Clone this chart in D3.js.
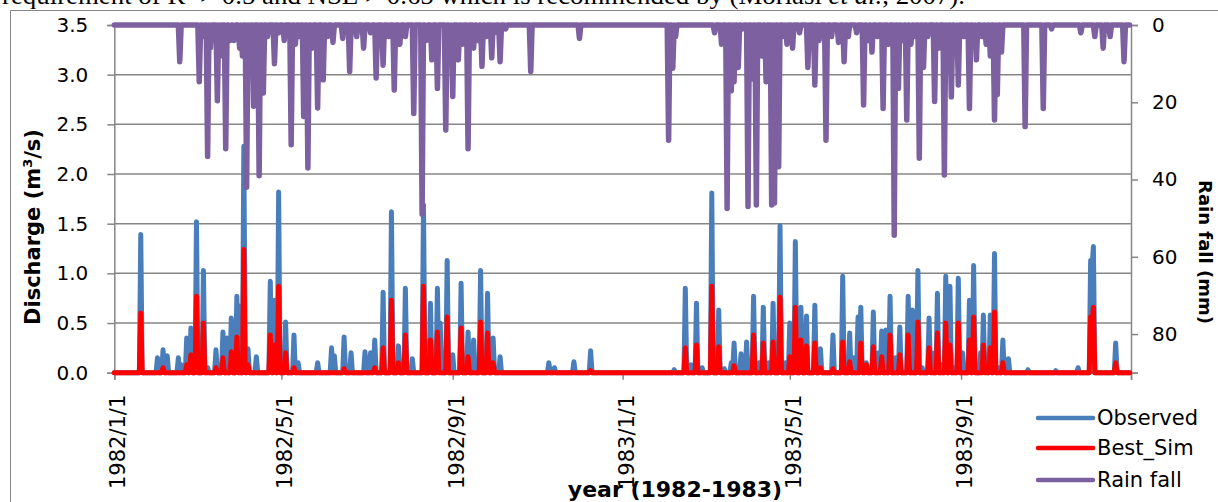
<!DOCTYPE html>
<html>
<head>
<meta charset="utf-8">
<script src="https://cdn.jsdelivr.net/npm/d3@7"></script>
<style>
  body { margin: 0; background: #fff; }
  svg { display: block; }
</style>
</head>
<body>
<svg id="chart"></svg>
<script>
// Daily discharge (observed vs simulated) with rainfall on a reversed secondary axis.
// Data are sparse: [day offset from 1982/1/1, value]; every other day is 0.

const width = 1218;
const height = 502;

const startDate = new Date(1982, 0, 1);
const nDays = 730;

// observed discharge (m3/s)
const observed = [
  [19,1.39],[31,0.15],[35,0.23],[38,0.17],[46,0.15],[48,0.08],[52,0.35],[55,0.45],[59,1.52],[64,1.03],
  [67,0.05],[73,0.23],[78,0.41],[81,0.35],[84,0.55],[88,0.77],[90,0.67],[93,2.28],[96,0.24],[102,0.16],
  [112,0.92],[115,0.73],[118,1.82],[123,0.51],[129,0.38],[132,0.10],[146,0.10],[156,0.25],[158,0.17],[165,0.36],
  [170,0.20],[180,0.21],[184,0.20],[187,0.33],[193,0.81],[199,1.62],[204,0.27],[209,0.85],[214,0.14],[222,1.69],
  [227,0.70],[232,0.85],[234,0.50],[239,1.13],[243,0.18],[249,0.90],[254,0.41],[258,0.33],[263,1.03],[268,0.80],
  [272,0.35],[277,0.16],[312,0.10],[316,0.05],[330,0.11],[342,0.22],[402,0.03],[410,0.85],[414,0.08],[418,0.70],
  [422,0.05],[429,1.81],[434,0.63],[438,0.04],[443,0.10],[445,0.30],[450,0.19],[454,0.31],[459,0.77],[463,0.10],
  [466,0.66],[470,0.10],[473,0.70],[478,1.48],[482,0.10],[485,0.50],[489,1.32],[493,0.66],[497,0.57],[503,0.68],
  [507,0.24],[516,0.38],[523,0.97],[528,0.40],[531,0.15],[534,0.56],[536,0.66],[540,0.10],[545,0.61],[549,0.20],
  [551,0.42],[554,0.43],[557,0.77],[561,0.15],[564,0.46],[570,0.77],[573,0.63],[577,1.03],[580,0.05],[585,0.55],
  [587,0.20],[591,0.80],[594,0.08],[597,0.97],[600,0.87],[603,0.05],[606,0.95],[609,0.20],[614,0.73],[617,1.08],
  [622,0.20],[624,0.58],[626,0.05],[629,0.58],[632,1.20],[635,0.05],[638,0.33],[642,0.14],[656,0.03],[676,0.02],
  [692,0.05],[701,1.13],[702,1.05],[703,1.27],[719,0.30]
];

// best simulation (m3/s)
const bestSim = [
  [19,0.60],[35,0.05],[52,0.08],[55,0.18],[59,0.77],[64,0.50],[73,0.05],[78,0.15],[84,0.21],[88,0.36],
  [93,1.24],[96,0.08],[112,0.38],[115,0.28],[118,0.87],[123,0.20],[129,0.05],[165,0.04],[187,0.05],[193,0.25],
  [199,0.73],[204,0.10],[209,0.38],[222,0.87],[227,0.33],[232,0.41],[239,0.56],[249,0.45],[254,0.16],[263,0.51],
  [268,0.40],[272,0.10],[342,0.02],[410,0.25],[418,0.28],[429,0.87],[434,0.26],[445,0.07],[459,0.38],[466,0.30],
  [473,0.31],[478,0.76],[485,0.16],[489,0.66],[493,0.33],[497,0.27],[503,0.30],[507,0.05],[516,0.04],[523,0.31],
  [528,0.11],[536,0.30],[540,0.08],[545,0.26],[551,0.16],[557,0.38],[564,0.18],[570,0.38],[577,0.51],[585,0.25],
  [591,0.40],[597,0.50],[600,0.28],[606,0.50],[614,0.33],[617,0.56],[624,0.28],[629,0.25],[632,0.61],[638,0.10],
  [701,0.56],[702,0.50],[703,0.66],[719,0.10]
];

// rainfall (mm)
const rainfall = [
  [47,9.5],[61,14.7],[64,3],[67,34],[69,6],[74,19.6],[76,8],[80,32],[83,4],[86,4],
  [90,6],[92,8],[95,42],[97,10],[100,21],[104,39],[107,17.6],[110,3],[115,10],[118,2],
  [122,4],[127,31],[130,5],[133,3],[136,23.7],[139,37],[142,6],[146,21.5],[150,14.2],[153,3],
  [157,4.5],[164,3.5],[169,12],[174,3],[179,6],[184,2],[188,13.7],[193,10.4],[197,3],[201,16.8],
  [205,5],[209,3],[215,22.9],[221,49],[224,4],[228,9],[232,16.4],[238,27.2],[241,5],[243,18.5],
  [247,9],[250,5],[254,32],[258,6],[261,4],[264,10.7],[267,3],[271,8.5],[273,2],[277,9.5],
  [281,1],[299,12],[334,3.5],[398,29.8],[401,11.2],[403,3],[431,2],[436,5],[440,47.5],[443,17],
  [445,14.7],[448,11],[451,1],[455,47],[458,14],[461,46.6],[465,8],[468,14.7],[472,46.6],[474,46.1],
  [477,36.7],[481,3],[483,5],[487,6],[492,2],[498,11],[503,15.5],[506,4],[511,29.8],[515,3],
  [520,4.5],[524,9.5],[527,3],[533,2],[538,20.7],[541,4],[544,7],[548,3],[552,21.6],[556,5],
  [560,54.4],[563,16.4],[566,4],[569,24.6],[572,5],[575,3],[578,34.5],[581,11],[584,3],[589,19.8],
  [592,6],[596,38.8],[598,10],[601,18.6],[604,4],[606,15.5],[610,3],[614,21.6],[617,5],[619,9],
  [623,3],[626,5],[629,8],[632,24.6],[634,18],[637,7],[654,26.3],[667,21.6],[673,1],[694,2],
  [704,3],[710,6],[715,3],[725,9.5]
];

const dischargeTicks = [0, 0.5, 1.0, 1.5, 2.0, 2.5, 3.0, 3.5];
const rainTicks = [0, 20, 40, 60, 80];
const dateTicks = [
  new Date(1982, 0, 1), new Date(1982, 4, 1), new Date(1982, 8, 1),
  new Date(1983, 0, 1), new Date(1983, 4, 1), new Date(1983, 8, 1), new Date(1984, 0, 1)
];

const seriesNames = ["Observed", "Best_Sim", "Rain fall"];
const seriesColors = ["#4a7ebb", "#ff0000", "#7d60a0"];

// 把稀疏資料展開成每日序列
function toDaily(pairs) {
  const vals = new Array(nDays).fill(0);
  pairs.forEach(function (p) { vals[p[0]] = p[1]; });
  return vals.map(function (v, i) {
    return { date: d3.timeDay.offset(startDate, i), v: v };
  });
}

const obsDaily = toDaily(observed);
const simDaily = toDaily(bestSim);
const rainDaily = toDaily(rainfall);

const plot = { left: 114.3, right: 1131, top: 25, bottom: 372.7 };
const grey = "#868686";

const svg = d3.select("#chart")
  .attr("width", width)
  .attr("height", height)
  .attr("viewBox", "0 0 " + width + " " + height);

// chart frame (left + top edges visible)
svg.append("path")
  .attr("d", "M10.5,502V10.5H1218")
  .attr("fill", "none")
  .attr("stroke", grey)
  .attr("stroke-width", 1);

// caption line above the chart (cropped by the picture's top edge)
const cap = svg.append("text")
  .attr("x", 2)
  .attr("y", 4)
  .attr("font-family", "Liberation Serif")
  .attr("font-size", 25)
  .attr("textLength", 963)
  .attr("lengthAdjust", "spacingAndGlyphs")
  .attr("fill", "#000");
cap.append("tspan").text("requirement of R\u00b2 > 0.5 and NSE > 0.65 which is recommended by (Moriasi ");
cap.append("tspan").attr("font-style", "italic").text("et al.");
cap.append("tspan").text(", 2007).");

const x = d3.scaleTime()
  .domain([startDate, new Date(1984, 0, 1)])
  .range([plot.left, plot.right]);

const y = d3.scaleLinear()
  .domain([0, 3.5])
  .range([plot.bottom, plot.top]);

const y2 = d3.scaleLinear()
  .domain([0, 90])
  .range([plot.top, plot.bottom]);

// gridlines
svg.append("g")
  .selectAll("line")
  .data(dischargeTicks)
  .enter()
  .append("line")
  .attr("x1", plot.left)
  .attr("x2", plot.right)
  .attr("y1", function (d) { return y(d); })
  .attr("y2", function (d) { return y(d); })
  .attr("stroke", grey)
  .attr("stroke-width", 1.5);

function styleAxis(g) {
  g.selectAll(".domain").attr("stroke", grey).attr("stroke-width", 1.5);
  g.selectAll(".tick line").attr("stroke", grey).attr("stroke-width", 1.5);
  g.selectAll(".tick text")
    .attr("fill", "#000")
    .attr("font-family", "DejaVu Sans")
    .attr("font-size", 20);
}

// left axis
svg.append("g")
  .attr("transform", "translate(" + plot.left + ",0)")
  .call(d3.axisLeft(y).tickValues(dischargeTicks).tickFormat(d3.format(".1f"))
    .tickSizeOuter(0).tickSize(7).tickPadding(19))
  .call(styleAxis);

// right axis
svg.append("g")
  .attr("transform", "translate(" + plot.right + ",0)")
  .call(d3.axisRight(y2).tickValues(rainTicks.concat([90])).tickFormat(function (d) { return d === 90 ? "" : d; })
    .tickSizeOuter(0).tickSize(7).tickPadding(14))
  .call(styleAxis);

// bottom axis with rotated date labels
const fmt = d3.timeFormat("%Y/%-m/%-d");
const xAxisG = svg.append("g")
  .attr("transform", "translate(0," + plot.bottom + ")")
  .call(d3.axisBottom(x).tickValues(dateTicks)
    .tickFormat(function (d) { return d.getFullYear() >= 1984 ? "" : fmt(d); })
    .tickSizeOuter(0).tickSize(7))
  .call(styleAxis);

xAxisG.selectAll(".tick text")
  .attr("font-size", 21)
  .attr("transform", "rotate(-90)")
  .attr("text-anchor", "end")
  .attr("x", -22)
  .attr("y", 3)
  .attr("dy", "0.35em");

// lines
const lineQ = d3.line()
  .x(function (d) { return x(d.date); })
  .y(function (d) { return y(d.v); });

const lineR = d3.line()
  .x(function (d) { return x(d.date); })
  .y(function (d) { return y2(d.v); });

const lines = [
  { data: obsDaily, gen: lineQ, color: seriesColors[0], w: 5 },
  { data: simDaily, gen: lineQ, color: seriesColors[1], w: 5 },
  { data: rainDaily, gen: lineR, color: seriesColors[2], w: 5.5 }
];

svg.append("g")
  .selectAll("path")
  .data(lines)
  .enter()
  .append("path")
  .attr("d", function (d) { return d.gen(d.data); })
  .attr("fill", "none")
  .attr("stroke", function (d) { return d.color; })
  .attr("stroke-width", function (d) { return d.w; })
  .attr("stroke-linejoin", "round")
  .attr("stroke-linecap", "round");

// axis titles
const dischargeTitle = svg.append("text")
  .attr("transform", "translate(40,227) rotate(-90)")
  .attr("text-anchor", "middle")
  .attr("font-family", "DejaVu Sans")
  .attr("font-weight", "bold")
  .attr("font-size", 21);
dischargeTitle.append("tspan").text("Discharge (m");
dischargeTitle.append("tspan").attr("font-size", 13).attr("dy", -8).text("3");
dischargeTitle.append("tspan").attr("dy", 8).text("/s)");

svg.append("text")
  .attr("transform", "translate(1199,252) rotate(90)")
  .attr("text-anchor", "middle")
  .attr("font-family", "DejaVu Sans")
  .attr("font-weight", "bold")
  .attr("font-size", 18)
  .text("Rain fall (mm)");

svg.append("text")
  .attr("x", 675)
  .attr("y", 497)
  .attr("text-anchor", "middle")
  .attr("font-family", "DejaVu Sans")
  .attr("font-weight", "bold")
  .attr("font-size", 22)
  .text("year (1982-1983)");

// legend
const legend = svg.append("g")
  .selectAll("g")
  .data(seriesNames)
  .enter()
  .append("g")
  .attr("transform", function (d, i) { return "translate(1038," + [418, 448, 480][i] + ")"; });

legend.append("line")
  .attr("x1", 0)
  .attr("x2", 55)
  .attr("stroke", function (d, i) { return seriesColors[i]; })
  .attr("stroke-width", 4.5)
  .attr("stroke-linecap", "round");

legend.append("text")
  .attr("x", 59)
  .attr("dy", "0.35em")
  .attr("font-family", "DejaVu Sans")
  .attr("font-size", 21)
  .text(function (d) { return d; });
</script>
</body>
</html>
